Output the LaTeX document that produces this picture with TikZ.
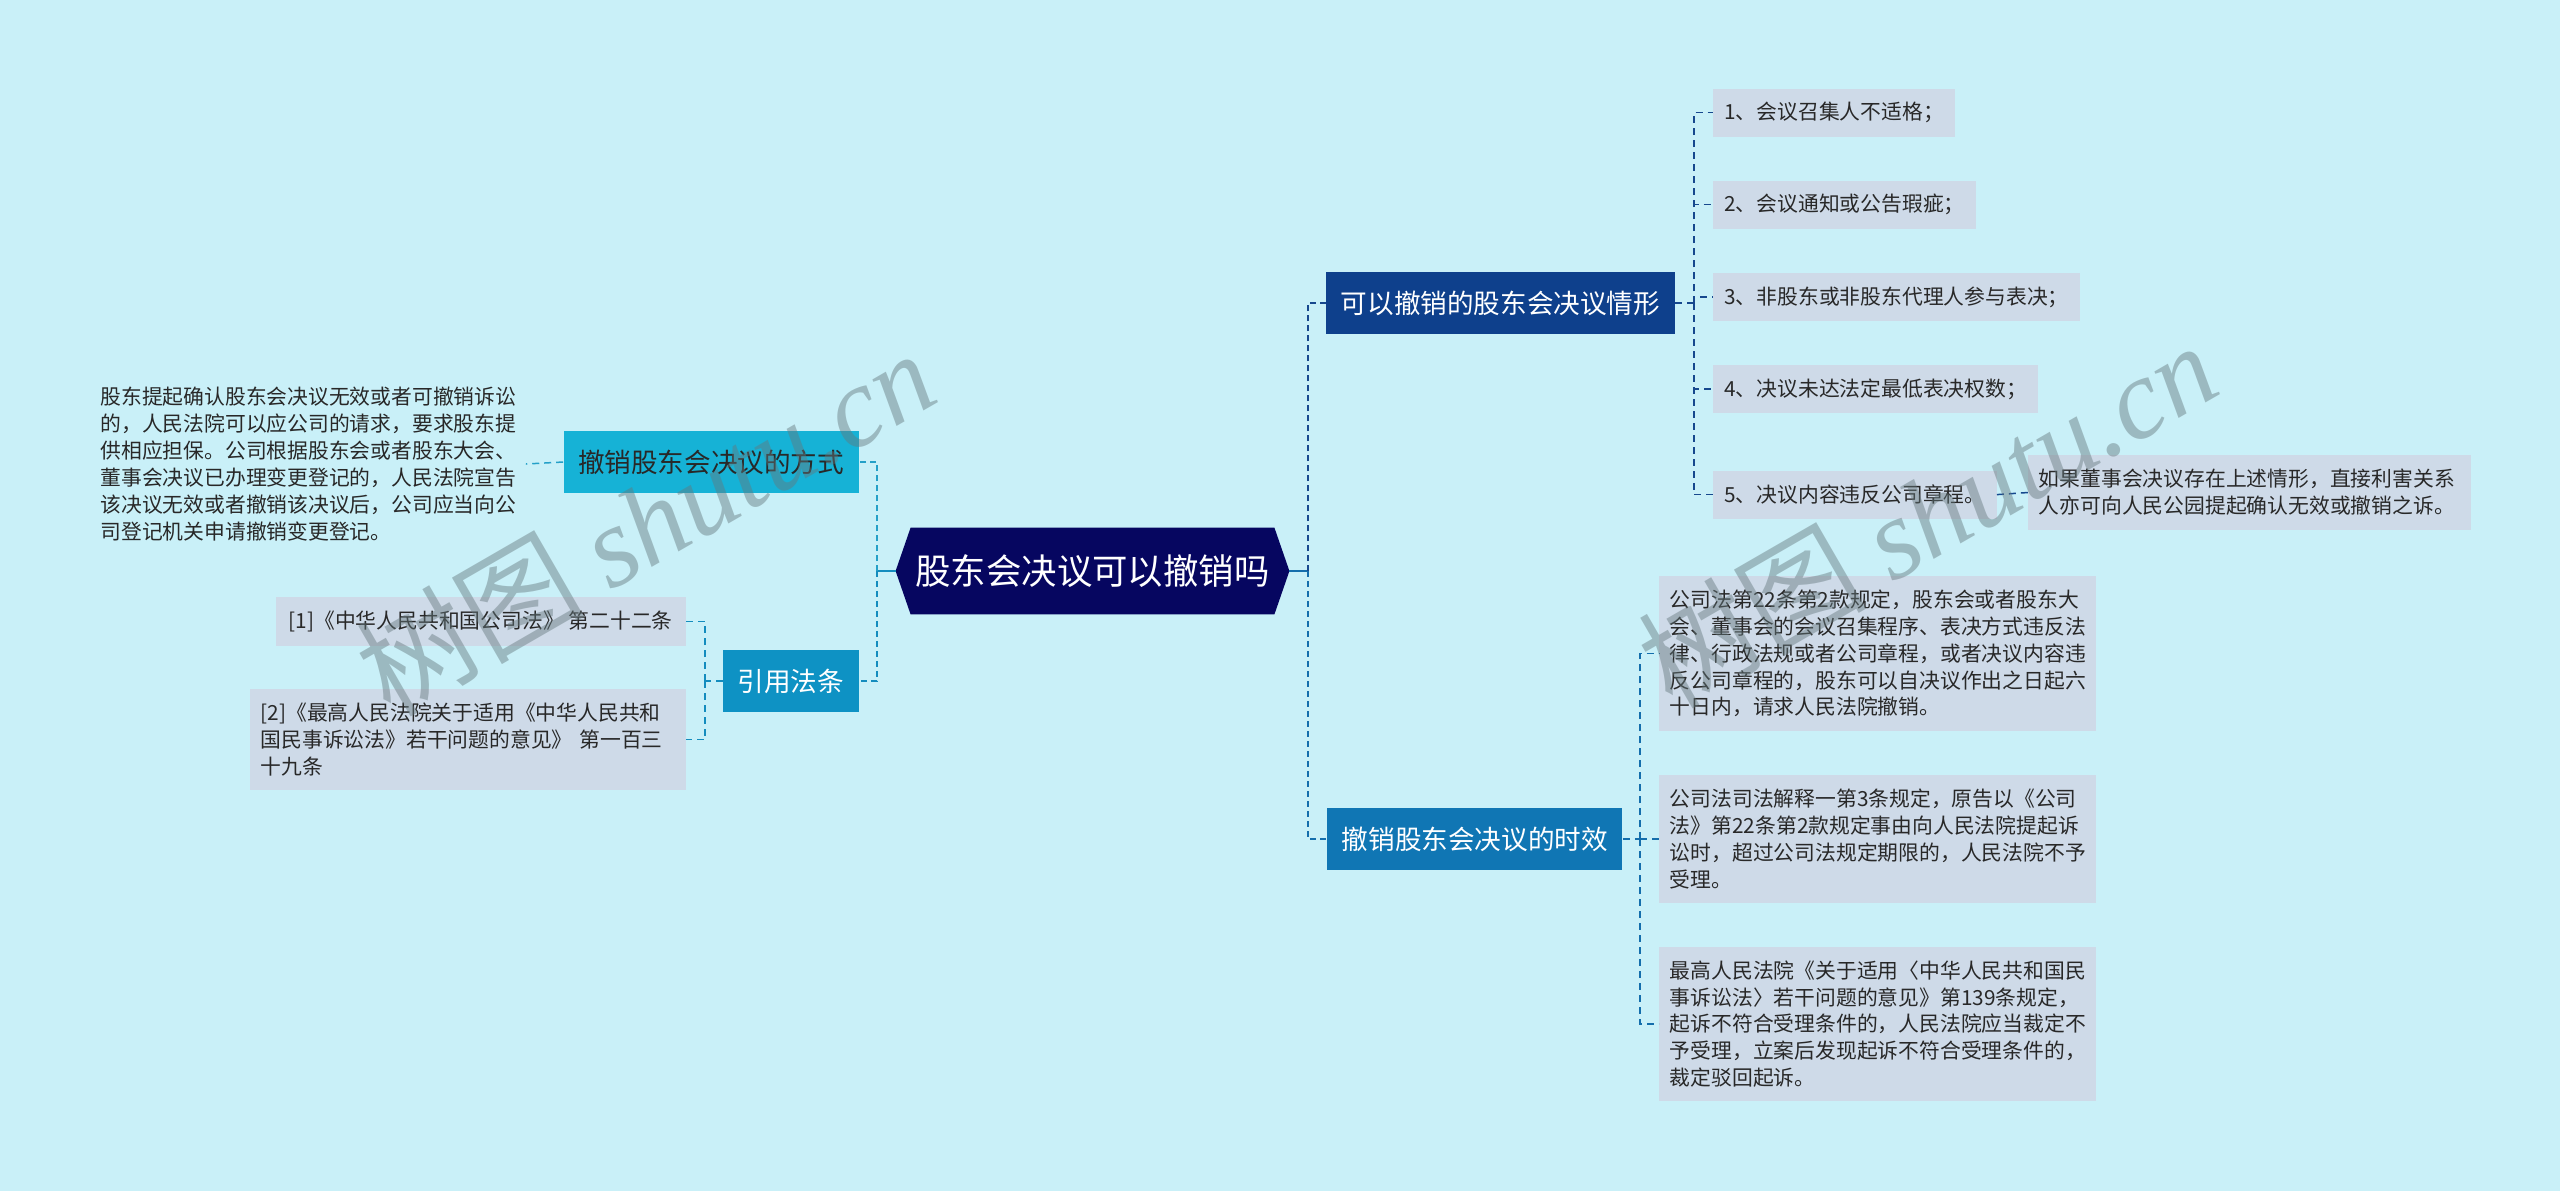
\documentclass[tikz,border=0pt]{standalone}
\usepackage{fontspec}
\setmainfont{Noto Sans CJK SC}
\newfontfamily\wmlatin{Liberation Serif}
\definecolor{bgc}{RGB}{201,240,248}
\definecolor{rootc}{RGB}{6,6,96}
\definecolor{r1c}{RGB}{14,64,140}
\definecolor{r2c}{RGB}{16,118,180}
\definecolor{l1c}{RGB}{22,178,214}
\definecolor{l2c}{RGB}{14,146,196}
\definecolor{leafc}{RGB}{206,218,232}
\definecolor{txtc}{RGB}{40,40,40}
\definecolor{rc1}{RGB}{22,72,142}
\definecolor{rc2}{RGB}{20,110,172}
\definecolor{lc1}{RGB}{36,160,200}
\definecolor{lc2}{RGB}{20,140,190}
\definecolor{wmc}{RGB}{100,120,125}
\pgfdeclarelayer{bglayer}
\pgfsetlayers{bglayer,main}
\begin{document}
\begin{tikzpicture}[x=0.5pt,y=-0.5pt,
  rootnode/.style={text=white,font=\fontsize{17.7}{20}\selectfont,inner sep=0pt,minimum width=196.5pt,minimum height=43pt},
  branch/.style={font=\fontsize{13.3}{16}\selectfont,inner xsep=7.25pt,inner ysep=0pt,minimum height=31pt},
  item/.style={fill=leafc,text=txtc,font=\fontsize{10.4}{13.4}\selectfont,inner xsep=5.5pt,inner ysep=0pt,minimum height=24pt},
  leaf/.style={fill=leafc,text=txtc,font=\fontsize{10.4}{13.4}\selectfont,align=left,inner xsep=5.25pt,inner ysep=0pt},
  plain/.style={text=txtc,font=\fontsize{10.4}{13.5}\selectfont,align=left,inner xsep=2.5pt,inner ysep=0pt},
  mainline/.style={line width=1.4pt,dash pattern=on 3pt off 2pt},
  subline/.style={line width=0.75pt,dash pattern=on 3.5pt off 2.5pt},
  stub/.style={line width=1.4pt},
  wm/.style={text=wmc,opacity=0.45,font=\fontsize{57}{60}\selectfont,inner sep=0pt}
]
\begin{pgfonlayer}{bglayer}
\fill[bgc] (0,0) rectangle (2560,1191);
\end{pgfonlayer}
\useasboundingbox (0,0) rectangle (2560,1191);

% root
\node[rootnode] (root) at (1092.5,571) {股东会决议可以撤销吗};
\begin{pgfonlayer}{bglayer}
\fill[rootc] (root.west) -- ([xshift=7.5pt]root.north west) -- ([xshift=-7.5pt]root.north east) -- (root.east) -- ([xshift=-7.5pt]root.south east) -- ([xshift=7.5pt]root.south west) -- cycle;
\end{pgfonlayer}

% branches
\node[branch,fill=r1c,text=white,anchor=west] (R1) at (1326,303) {可以撤销的股东会决议情形};
\node[branch,fill=r2c,text=white,anchor=west] (R2) at (1327,839) {撤销股东会决议的时效};
\node[branch,fill=l1c,text=txtc,anchor=east] (L1) at (859,462) {撤销股东会决议的方式};
\node[branch,fill=l2c,text=white,anchor=east] (L2) at (859,681) {引用法条};

% right items
\node[item,anchor=west] (i1) at (1713,112.5) {1、会议召集人不适格；};
\node[item,anchor=west] (i2) at (1713,204.6) {2、会议通知或公告瑕疵；};
\node[item,anchor=west] (i3) at (1713,297) {3、非股东或非股东代理人参与表决；};
\node[item,anchor=west] (i4) at (1713,389) {4、决议未达法定最低表决权数；};
\node[item,anchor=west] (i5) at (1713,494.6) {5、决议内容违反公司章程。};
\node[leaf,anchor=west,text width=211pt,minimum height=37.5pt] (l6) at (2028,492.5) {如果董事会决议存在上述情形，直接利害关系\\人亦可向人民公园提起确认无效或撤销之诉。};

\node[leaf,anchor=west,text width=208pt,minimum height=77.5pt] (ra) at (1659,653.5) {公司法第22条第2款规定，股东会或者股东大\\会、董事会的会议召集程序、表决方式违反法\\律、行政法规或者公司章程，或者决议内容违\\反公司章程的，股东可以自决议作出之日起六\\十日内，请求人民法院撤销。};
\node[leaf,anchor=west,text width=208pt,minimum height=64pt] (rb) at (1659,839) {公司法司法解释一第3条规定，原告以《公司\\法》第22条第2款规定事由向人民法院提起诉\\讼时，超过公司法规定期限的，人民法院不予\\受理。};
\node[leaf,anchor=west,text width=208pt,minimum height=77pt] (rc) at (1659,1024) {最高人民法院《关于适用〈中华人民共和国民\\事诉讼法〉若干问题的意见》第139条规定，\\起诉不符合受理条件的，人民法院应当裁定不\\予受理，立案后发现起诉不符合受理条件的，\\裁定驳回起诉。};

% left leaves
\node[plain,anchor=west,text width=210pt] (lL1) at (95,464) {股东提起确认股东会决议无效或者可撤销诉讼\\的，人民法院可以应公司的请求，要求股东提\\供相应担保。公司根据股东会或者股东大会、\\董事会决议已办理变更登记的，人民法院宣告\\该决议无效或者撤销该决议后，公司应当向公\\司登记机关申请撤销变更登记。};
\node[item,anchor=east,inner xsep=6.5pt,minimum height=24.5pt] (ref1) at (686,621.5) {[1]《中华人民共和国公司法》 第二十二条};
\node[leaf,anchor=east,text width=207pt,inner xsep=5.5pt,minimum height=50.5pt] (ref2) at (686,739.5) {[2]《最高人民法院关于适用《中华人民共和\\国民事诉讼法》若干问题的意见》 第一百三\\十九条};

% junctions
\coordinate (jR) at (1308,571);
\coordinate (jL) at (877,571);
\coordinate (jR1) at (1694,303);
\coordinate (jR2) at (1640,839);
\coordinate (jL2) at (705,681);

% main connectors
\draw[stub,rc2] (root.east) -- (jR);
\draw[mainline,rc1] (jR) |- (R1.west);
\draw[mainline,rc2] (jR) |- (R2.west);
\draw[stub,lc2] (root.west) -- (jL);
\draw[mainline,lc1] (jL) |- (L1.east);
\draw[mainline,lc2] (jL) |- (L2.east);

% sub connectors
\draw[subline,rc1] (R1.east) -- (jR1);
\foreach \k in {1,...,5} { \draw[subline,rc1] (jR1) |- (i\k.west); }
\draw[subline,rc1] (i5.east) -- (l6.west);
\draw[subline,rc2] (R2.east) -- (jR2);
\draw[subline,rc2] (jR2) |- (ra.west);
\draw[subline,rc2] (jR2) |- (rb.west);
\draw[subline,rc2] (jR2) |- (rc.west);
\draw[subline,lc1] (L1.west) -- (lL1.east);
\draw[subline,lc2] (L2.west) -- (jL2);
\draw[subline,lc2] (jL2) |- (ref1.east);
\draw[subline,lc2] (jL2) |- (ref2.east);

% watermarks
\node[wm,rotate=30] (wm1) at (645,522) {树图 {\wmlatin\itshape shutu.cn}};
\node[wm,rotate=30] (wm2) at (1927,514) {树图 {\wmlatin\itshape shutu.cn}};
\end{tikzpicture}
\end{document}
